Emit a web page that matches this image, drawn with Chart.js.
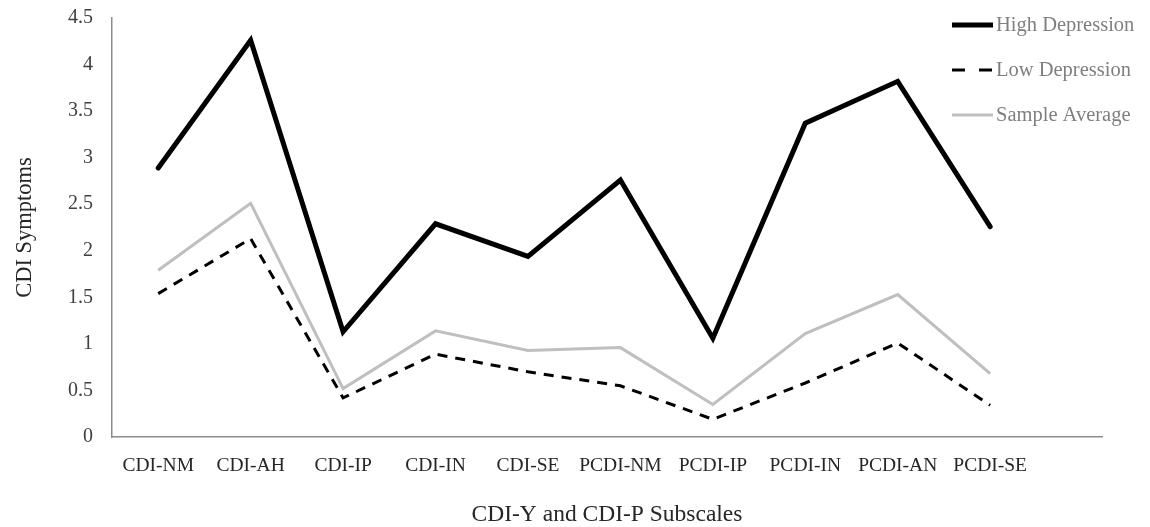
<!DOCTYPE html>
<html>
<head>
<meta charset="utf-8">
<script src="https://cdn.jsdelivr.net/npm/chart.js@4"></script>
<style>
  html, body { margin: 0; padding: 0; background: #fff; }
  #wrap { width: 1150px; height: 527px; }
</style>
</head>
<body>
<div id="wrap"><canvas id="chart"></canvas></div>
<script>
const categories = ["CDI-NM", "CDI-AH", "CDI-IP", "CDI-IN", "CDI-SE", "PCDI-NM", "PCDI-IP", "PCDI-IN", "PCDI-AN", "PCDI-SE"];
const highDepression = [2.89, 4.26, 1.13, 2.29, 1.94, 2.76, 1.06, 3.37, 3.82, 2.26];
const lowDepression = [1.54, 2.13, 0.42, 0.89, 0.70, 0.55, 0.19, 0.58, 1.01, 0.34];
const sampleAverage = [1.79, 2.51, 0.52, 1.14, 0.93, 0.96, 0.35, 1.11, 1.53, 0.68];
const yTicks = [0, 0.5, 1, 1.5, 2, 2.5, 3, 3.5, 4, 4.5];

const font = "'Liberation Serif', 'Times New Roman', serif";

const toPoints = (values) => values.map((v, i) => ({ x: i, y: v }));

// legend drawn inside the plot, top right, like the original
const legendPlugin = {
  id: "cornerLegend",
  afterDraw(chart) {
    const ctx = chart.ctx;
    const rows = [25, 70, 115];
    ctx.save();
    chart.data.datasets.forEach((ds, i) => {
      const y = rows[i];
      ctx.beginPath();
      ctx.strokeStyle = ds.borderColor;
      ctx.lineWidth = ds.borderWidth;
      ctx.setLineDash(ds.borderDash ? [13, 14] : []);
      ctx.lineCap = "butt";
      ctx.moveTo(952, y);
      ctx.lineTo(993, y);
      ctx.stroke();
      ctx.setLineDash([]);
      ctx.fillStyle = "#7f7f7f";
      ctx.font = "20.5px " + font;
      ctx.textBaseline = "middle";
      ctx.fillText(ds.label, 996, y + 1);
    });
    ctx.restore();
  },
};

new Chart(document.getElementById("chart"), {
  type: "line",
  data: {
    datasets: [
      {
        label: "High Depression",
        data: toPoints(highDepression),
        borderColor: "#000000",
        borderWidth: 5,
        borderCapStyle: "round",
        borderJoinStyle: "miter",
        pointRadius: 0,
      },
      {
        label: "Low Depression",
        data: toPoints(lowDepression),
        borderColor: "#000000",
        borderWidth: 3,
        borderDash: [10, 8],
        pointRadius: 0,
      },
      {
        label: "Sample Average",
        data: toPoints(sampleAverage),
        borderColor: "#bfbfbf",
        borderWidth: 3,
        pointRadius: 0,
      },
    ],
  },
  options: {
    responsive: true,
    maintainAspectRatio: false,
    animation: false,
    layout: { padding: { top: 18, right: 48, left: 12, bottom: 0 } },
    plugins: {
      legend: { display: false },
      tooltip: { enabled: false },
    },
    scales: {
      x: {
        type: "linear",
        min: -0.5,
        max: 10.21,
        afterBuildTicks: (scale) => {
          scale.ticks = categories.map((c, i) => ({ value: i }));
        },
        afterFit: (scale) => {
          scale.height = 90;
        },
        grid: { display: false, drawTicks: false },
        border: { color: "#8c8c8c", width: 1.5 },
        ticks: {
          autoSkip: false,
          maxRotation: 0,
          padding: 17,
          color: "#262626",
          font: { family: font, size: 19.5 },
          callback: (value) => categories[value],
        },
        title: {
          display: true,
          text: "CDI-Y and CDI-P Subscales",
          color: "#262626",
          font: { family: font, size: 23.5 },
          padding: { top: 0, bottom: -2 },
        },
      },
      y: {
        min: 0,
        max: 4.5,
        afterBuildTicks: (scale) => {
          scale.ticks = yTicks.map((v) => ({ value: v }));
        },
        afterFit: (scale) => {
          scale.width = 100;
          scale.paddingTop = 0;
          scale.paddingBottom = 0;
        },
        grid: { display: false, drawTicks: false },
        border: { color: "#8c8c8c", width: 1.5 },
        ticks: {
          padding: 19,
          color: "#404040",
          font: { family: font, size: 20 },
          callback: (value) => String(value),
        },
        title: {
          display: true,
          text: "CDI Symptoms",
          color: "#262626",
          font: { family: font, size: 22.5 },
          padding: { top: 0, bottom: 0 },
        },
      },
    },
  },
  plugins: [legendPlugin],
});
</script>
</body>
</html>
